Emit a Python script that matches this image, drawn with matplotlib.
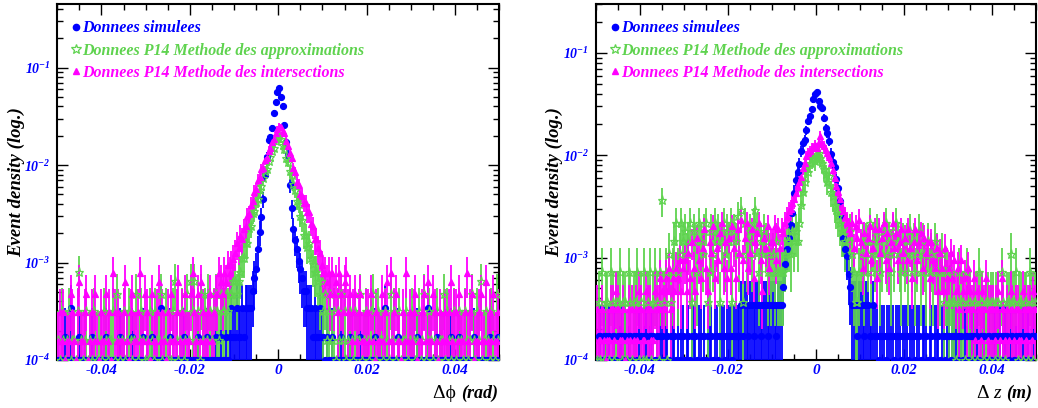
import numpy as np
import matplotlib
matplotlib.use('Agg')
import matplotlib.pyplot as plt
from matplotlib.lines import Line2D
from matplotlib.font_manager import FontProperties
from matplotlib.ticker import LogLocator, FuncFormatter, MultipleLocator, NullFormatter

plt.rcParams['mathtext.fontset'] = 'custom'
plt.rcParams['mathtext.rm'] = 'Liberation Serif:italic:bold'
plt.rcParams['mathtext.it'] = 'Liberation Serif:italic:bold'
plt.rcParams['mathtext.bf'] = 'Liberation Serif:italic:bold'
plt.rcParams['axes.unicode_minus'] = False

# binning of the histograms (250 bins between -0.05 and 0.05)
x_lo, x_hi, n_bins = -0.05, 0.05, 250

# event density carried by one entry, per series
unit_sim_phi, unit_int_phi, unit_app_phi = 1.72e-4, 1.57e-4, 1.60e-4
unit_sim_z, unit_int_z, unit_app_z = 1.72e-4, 1.57e-4, 3.65e-4

# entries per bin (left panel : delta phi)
phi_sim = [0, 0, 0, 0, 1, 0, 0, 2, 0, 0, 0, 0, 1, 0, 0, 0, 0, 0, 0, 1, 0, 0, 0, 0, 0,
           0, 0, 1, 0, 0, 0, 0, 0, 0, 0, 1, 0, 0, 0, 0, 0, 0, 1, 0, 0, 0, 0, 0, 1, 0,
           0, 0, 0, 1, 0, 0, 0, 0, 2, 0, 0, 0, 0, 1, 0, 0, 0, 0, 0, 0, 0, 1, 0, 0, 0,
           0, 0, 0, 0, 1, 0, 0, 0, 0, 1, 0, 0, 0, 0, 1, 0, 0, 1, 0, 0, 1, 0, 1, 2, 1,
           1, 2, 1, 1, 2, 1, 2, 2, 2, 2, 3, 4, 5, 8, 12, 17, 26, 46, 70, 105, 112, 140, 198, 256, 326,
           360, 292, 236, 150, 100, 74, 36, 21, 13, 10, 8, 6, 5, 4, 3, 3, 2, 2, 2, 1, 2, 1, 1, 2, 1,
           1, 0, 1, 0, 0, 1, 0, 0, 0, 0, 1, 0, 0, 0, 0, 1, 0, 0, 0, 0, 0, 1, 0, 0, 0,
           0, 0, 0, 0, 1, 0, 0, 0, 0, 0, 2, 0, 0, 0, 0, 0, 0, 1, 0, 0, 0, 0, 0, 0, 0,
           0, 0, 0, 1, 0, 0, 0, 0, 0, 2, 0, 0, 0, 0, 1, 0, 0, 0, 0, 0, 0, 0, 1, 0, 0,
           0, 0, 1, 0, 0, 0, 0, 0, 0, 0, 1, 0, 0, 0, 0, 0, 0, 0, 0, 1, 0, 0, 0, 0, 1]

phi_int = [1, 2, 1, 2, 0, 1, 1, 3, 2, 1, 0, 2, 4, 1, 1, 2, 3, 0, 1, 2, 1, 3, 1, 0, 2,
           1, 1, 3, 1, 2, 0, 5, 2, 1, 2, 1, 1, 2, 4, 1, 0, 2, 3, 1, 1, 2, 5, 1, 1, 3,
           2, 1, 0, 3, 1, 1, 2, 4, 1, 2, 1, 0, 2, 1, 3, 1, 1, 2, 4, 1, 2, 1, 3, 1, 1,
           3, 5, 2, 1, 3, 1, 4, 2, 1, 1, 2, 3, 1, 2, 3, 3, 5, 4, 3, 5, 4, 6, 5, 6, 7,
           8, 10, 9, 12, 11, 14, 15, 19, 20, 25, 27, 34, 36, 45, 48, 58, 60, 72, 76, 90, 96, 111, 118, 137, 150,
           158, 155, 143, 136, 112, 101, 84, 75, 59, 54, 43, 40, 32, 31, 26, 26, 21, 21, 16, 15, 11, 11, 9, 8, 6,
           5, 5, 4, 5, 3, 5, 3, 4, 2, 5, 3, 2, 4, 5, 2, 3, 1, 2, 3, 1, 2, 3, 1, 1, 2,
           2, 1, 3, 1, 0, 2, 1, 1, 3, 1, 2, 4, 1, 5, 1, 2, 3, 1, 1, 0, 2, 1, 5, 1, 2,
           1, 2, 3, 0, 1, 1, 2, 3, 1, 4, 1, 1, 3, 2, 1, 0, 2, 1, 1, 2, 1, 2, 4, 1, 2,
           2, 1, 3, 1, 1, 2, 5, 1, 2, 3, 0, 1, 1, 2, 3, 1, 1, 4, 1, 2, 1, 3, 1, 1, 2]

phi_app = [1, 0, 2, 1, 0, 1, 2, 0, 1, 1, 0, 2, 5, 1, 0, 1, 2, 0, 1, 0, 2, 1, 0, 1, 1,
           0, 2, 1, 0, 1, 1, 2, 0, 3, 1, 0, 1, 2, 0, 1, 2, 1, 0, 1, 3, 0, 1, 2, 1, 0,
           1, 0, 2, 1, 0, 2, 1, 1, 3, 0, 1, 2, 0, 1, 0, 2, 4, 1, 0, 1, 2, 0, 1, 3, 1,
           4, 2, 4, 1, 2, 0, 3, 1, 2, 1, 3, 2, 1, 2, 3, 2, 1, 3, 2, 2, 3, 2, 3, 3, 4,
           4, 3, 4, 5, 7, 7, 10, 10, 14, 15, 20, 21, 26, 28, 35, 38, 46, 54, 57, 69, 76, 88, 94, 110, 119,
           126, 117, 100, 91, 74, 68, 54, 49, 40, 35, 27, 25, 19, 17, 12, 12, 9, 10, 7, 6, 5, 5, 4, 3, 4,
           2, 3, 1, 2, 3, 1, 2, 0, 2, 1, 3, 1, 2, 0, 1, 2, 1, 0, 2, 1, 1, 3, 0, 1, 2,
           1, 0, 2, 3, 1, 0, 2, 1, 1, 0, 2, 1, 0, 3, 1, 2, 0, 1, 2, 0, 1, 1, 2, 0, 1,
           2, 1, 0, 1, 2, 0, 1, 3, 0, 1, 2, 1, 0, 1, 2, 0, 1, 1, 3, 0, 2, 1, 0, 1, 2,
           0, 1, 2, 1, 0, 2, 1, 0, 1, 3, 1, 0, 2, 1, 4, 0, 1, 2, 1, 0, 2, 1, 0, 3, 1]

# entries per bin, right panel : delta z
z_sim = [0, 1, 1, 0, 1, 1, 0, 1, 0, 1, 1, 0, 1, 1, 1, 0, 1, 0, 1, 1, 0, 1, 1, 0, 1,
         1, 0, 1, 1, 0, 1, 1, 1, 0, 1, 0, 1, 1, 0, 1, 1, 0, 1, 1, 1, 0, 1, 0, 1, 1,
         0, 1, 1, 0, 1, 1, 1, 0, 1, 1, 0, 1, 0, 1, 1, 1, 0, 1, 1, 0, 1, 1, 1, 0, 1,
         1, 1, 0, 1, 1, 1, 1, 2, 1, 2, 2, 1, 2, 2, 1, 2, 2, 2, 1, 2, 2, 2, 1, 2, 2,
         2, 2, 1, 2, 2, 2, 3, 5, 7, 9, 12, 16, 25, 33, 40, 48, 64, 76, 82, 102, 126, 140, 163, 204, 232,
         243, 198, 176, 169, 134, 108, 95, 80, 60, 50, 45, 34, 28, 21, 15, 9, 7, 6, 4, 3, 2, 2, 2, 1, 2,
         2, 2, 1, 2, 2, 1, 1, 2, 1, 1, 0, 1, 1, 1, 0, 1, 1, 1, 1, 0, 1, 1, 1, 0, 1,
         1, 1, 0, 1, 1, 1, 0, 1, 1, 0, 1, 1, 1, 0, 1, 1, 0, 1, 1, 1, 0, 1, 1, 0, 1,
         1, 0, 1, 1, 1, 0, 1, 1, 0, 1, 1, 0, 1, 1, 1, 0, 1, 0, 1, 1, 1, 0, 1, 1, 0,
         1, 1, 0, 1, 1, 0, 1, 1, 1, 0, 1, 1, 0, 1, 0, 1, 1, 1, 0, 1, 1, 0, 1, 1, 1]

z_int = [2, 1, 1, 2, 1, 0, 1, 1, 2, 2, 1, 3, 2, 1, 1, 2, 0, 1, 2, 1, 2, 1, 2, 1, 3,
         2, 1, 1, 3, 2, 2, 1, 1, 3, 2, 2, 4, 3, 2, 4, 3, 5, 2, 4, 3, 5, 4, 6, 3, 5,
         6, 3, 7, 4, 9, 5, 3, 10, 6, 4, 8, 12, 5, 3, 9, 7, 13, 4, 8, 6, 11, 14, 5, 9, 4,
         10, 5, 13, 8, 4, 12, 7, 15, 6, 10, 14, 5, 7, 12, 4, 9, 11, 14, 6, 3, 10, 8, 13, 5, 9,
         9, 13, 6, 12, 8, 12, 11, 14, 16, 18, 19, 22, 24, 27, 31, 35, 39, 48, 54, 62, 67, 70, 75, 76, 80,
         75, 86, 99, 82, 78, 71, 67, 61, 54, 46, 38, 32, 28, 24, 20, 18, 16, 14, 12, 11, 14, 8, 13, 10, 15,
         9, 5, 11, 7, 10, 13, 6, 8, 12, 4, 12, 7, 10, 14, 6, 11, 5, 9, 14, 8, 11, 6, 9, 12, 7,
         10, 6, 12, 8, 4, 9, 12, 6, 9, 11, 5, 10, 7, 9, 4, 9, 6, 5, 8, 3, 7, 5, 3, 8, 4,
         5, 7, 4, 6, 3, 5, 2, 6, 3, 4, 2, 5, 3, 2, 4, 1, 3, 2, 1, 3, 2, 4, 1, 2, 2,
         2, 1, 2, 3, 1, 4, 2, 1, 2, 1, 3, 2, 1, 2, 2, 1, 1, 3, 2, 1, 2, 2, 1, 3, 2]

z_app = [0, 1, 0, 2, 0, 1, 1, 0, 2, 1, 0, 1, 1, 2, 0, 1, 1, 0, 2, 1, 0, 1, 1, 2, 0,
         1, 0, 2, 0, 1, 2, 0, 1, 2, 1, 0, 2, 10, 1, 2, 0, 3, 1, 2, 4, 6, 2, 3, 6, 4,
         5, 3, 4, 6, 1, 5, 4, 2, 6, 4, 3, 5, 6, 1, 2, 5, 3, 6, 4, 5, 1, 4, 6, 3, 5,
         4, 6, 1, 5, 4, 7, 3, 8, 1, 6, 3, 4, 5, 3, 6, 8, 5, 2, 4, 3, 5, 4, 2, 3, 2,
         3, 2, 4, 2, 2, 2, 2, 3, 4, 4, 3, 5, 4, 5, 4, 6, 9, 12, 15, 21, 19, 23, 25, 26, 24,
         27, 29, 26, 23, 20, 18, 15, 17, 12, 11, 9, 8, 7, 6, 5, 5, 4, 5, 4, 5, 3, 2, 1, 1, 2,
         3, 4, 2, 4, 3, 6, 2, 4, 3, 5, 4, 2, 3, 5, 6, 3, 4, 2, 5, 3, 6, 4, 3, 2, 4,
         3, 4, 2, 5, 3, 4, 2, 3, 5, 2, 4, 3, 2, 4, 2, 3, 2, 4, 3, 2, 2, 3, 1, 2, 2,
         1, 2, 1, 1, 0, 1, 2, 1, 1, 0, 2, 1, 1, 0, 1, 1, 0, 2, 1, 1, 0, 1, 1, 0, 1,
         1, 0, 1, 1, 0, 2, 1, 0, 1, 1, 3, 1, 1, 2, 0, 1, 1, 0, 1, 1, 0, 2, 1, 0, 1]

labels = ['Donnees simulees',
          'Donnees P14 Methode des approximations',
          'Donnees P14 Methode des intersections']

c_blue = '#0000ff'
c_green = '#5fd34f'
c_mag = '#ff00ff'

edges = np.linspace(x_lo, x_hi, n_bins + 1)
centers = 0.5 * (edges[:-1] + edges[1:])
half_w = 0.5 * (edges[1] - edges[0])

y_bottom = 1e-4
bi_font = FontProperties(family='Liberation Serif', style='italic', weight='bold')


def draw_hist(ax, counts, unit, color, marker, ms, filled=True):
    n = np.asarray(counts, dtype=float)
    y = n * unit
    err = np.sqrt(n) * unit
    lo = np.minimum(err, y - 1e-8)
    empty = n == 0
    y[empty] = y_bottom
    lo[empty] = 0
    err[empty] = 0
    ax.errorbar(centers, y, yerr=[lo, err], xerr=half_w, fmt=marker, ms=ms,
                color=color, mec=color, mfc=color if filled else 'none',
                mew=0.9, elinewidth=1.3, capsize=0, zorder=3)


def style_axes(ax, ytop):
    ax.set_xlim(x_lo, x_hi)
    ax.set_yscale('log')
    ax.set_ylim(y_bottom, ytop)
    ax.xaxis.set_major_locator(MultipleLocator(0.02))
    ax.xaxis.set_minor_locator(MultipleLocator(0.005))
    ax.xaxis.set_major_formatter(FuncFormatter(lambda v, p: '0' if abs(v) < 1e-9 else '%g' % v))
    ax.yaxis.set_major_locator(LogLocator(base=10, numticks=10))
    ax.yaxis.set_minor_locator(LogLocator(base=10, subs=np.arange(2, 10), numticks=20))
    ax.yaxis.set_major_formatter(FuncFormatter(lambda v, p: r'$10^{%d}$' % round(np.log10(v))))
    ax.yaxis.set_minor_formatter(NullFormatter())
    ax.tick_params(which='both', direction='in', top=True, right=True, width=1.0)
    ax.tick_params(which='major', length=8)
    ax.tick_params(which='minor', length=4)
    ax.tick_params(axis='x', which='major', pad=3, labelsize=11, labelcolor=c_blue)
    ax.tick_params(axis='y', which='major', pad=5, labelsize=10, labelcolor=c_blue)
    for lab in ax.get_xticklabels():
        lab.set_fontproperties(bi_font)
        lab.set_fontsize(11)
    for sp in ax.spines.values():
        sp.set_linewidth(1.5)
    handles = [Line2D([], [], ls='', marker='o', ms=4.5, color=c_blue),
               Line2D([], [], ls='', marker='*', ms=7, mfc='none', mec=c_green, mew=0.9),
               Line2D([], [], ls='', marker='^', ms=5, color=c_mag)]
    ax.legend(handles, labels, loc='upper left', bbox_to_anchor=(0.013, 0.977),
              frameon=False, handlelength=0.6, handletextpad=0.1, borderpad=0,
              labelspacing=0.4, prop=FontProperties(family='Liberation Serif', style='italic',
                                                    weight='bold', size=11.5),
              labelcolor=[c_blue, c_green, c_mag])


fig = plt.figure(figsize=(10.38, 4.08), dpi=100)
ax1 = fig.add_axes([0.0552, 0.1176, 0.4258, 0.8725])
ax2 = fig.add_axes([0.5742, 0.1176, 0.4239, 0.8725])

draw_hist(ax1, phi_sim, unit_sim_phi, c_blue, 'o', 4.3)
draw_hist(ax1, phi_app, unit_app_phi, c_green, '*', 6.5, filled=False)
draw_hist(ax1, phi_int, unit_int_phi, c_mag, '^', 4.8)
style_axes(ax1, 0.45)

draw_hist(ax2, z_sim, unit_sim_z, c_blue, 'o', 4.3)
draw_hist(ax2, z_app, unit_app_z, c_green, '*', 6.5, filled=False)
draw_hist(ax2, z_int, unit_int_z, c_mag, '^', 4.8)
style_axes(ax2, 0.30)

# axis titles
for xc in (16 / 1038, 554 / 1038):
    fig.text(xc, 1 - 182 / 408, 'Event density (log.)', rotation=90, ha='center', va='center',
             fontproperties=bi_font, fontsize=13.5)

t1 = fig.text(498 / 1038, 1 - 393 / 408, '(rad)', ha='right', va='center',
              fontproperties=bi_font, fontsize=13)
ax1.annotate('\u0394\u03d5 ', xy=(0, 0.5), xycoords=t1, ha='right', va='center',
             family=['Liberation Serif', 'DejaVu Serif'], fontsize=14)

t2 = fig.text(1032 / 1038, 1 - 393 / 408, '(m)', ha='right', va='center',
              fontproperties=bi_font, fontsize=13)
t3 = ax2.annotate('z ', xy=(0, 0.5), xycoords=t2, ha='right', va='center',
                  family='Liberation Serif', style='italic', fontsize=14)
ax2.annotate('\u0394 ', xy=(0, 0.5), xycoords=t3, ha='right', va='center',
             family='Liberation Serif', fontsize=14)

fig.savefig('out.png', dpi=100)
